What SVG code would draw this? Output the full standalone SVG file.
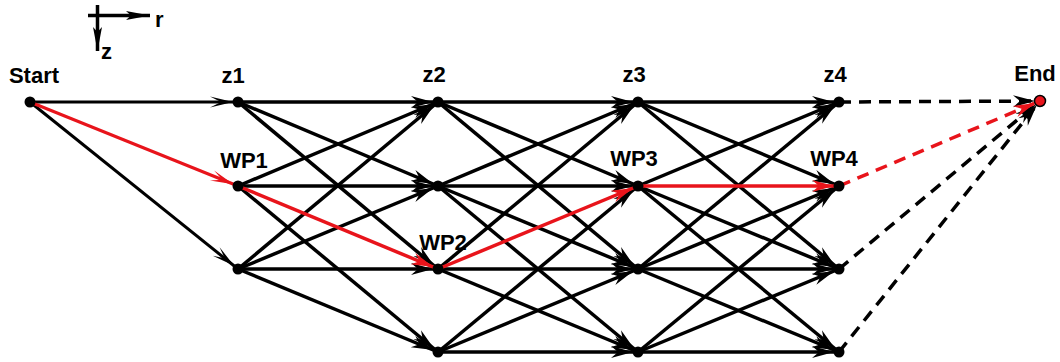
<svg xmlns="http://www.w3.org/2000/svg" width="1060" height="362" viewBox="0 0 1060 362">
<style>
  text { font-family: "Liberation Sans", Arial, sans-serif; font-weight: bold; fill: #000; }
  .lbl { font-size: 22px; text-anchor: middle; }
  .ax { font-size: 22px; }
  .e { stroke: #000; stroke-width: 3.5; fill: none; marker-end: url(#ah); }
  .er { stroke: #e8141b; stroke-width: 3.5; fill: none; marker-end: url(#ahr); }
  .s { stroke: #000; stroke-width: 3; fill: none; marker-end: url(#sh); }
  .sr { stroke: #e8141b; stroke-width: 3; fill: none; marker-end: url(#shr); }
  .d { stroke: #000; stroke-width: 3.5; fill: none; stroke-dasharray: 12 8; marker-end: url(#ah); }
  .dr { stroke: #e8141b; stroke-width: 3.5; fill: none; stroke-dasharray: 12 8; marker-end: url(#ahr); }
  .axl { stroke: #000; stroke-width: 3.5; fill: none; }
  .n { fill: #000; }
</style>
<defs>
  <marker id="ah" markerUnits="userSpaceOnUse" orient="auto" refX="0" refY="0" markerWidth="30" markerHeight="14" style="overflow:visible">
    <path d="M-5,0 L-27,-6 L-20,0 L-27,6 Z" fill="#000"/>
  </marker>
  <marker id="ahr" markerUnits="userSpaceOnUse" orient="auto" refX="0" refY="0" markerWidth="30" markerHeight="14" style="overflow:visible">
    <path d="M-5,0 L-27,-6 L-20,0 L-27,6 Z" fill="#e8141b"/>
  </marker>
  <marker id="sh" markerUnits="userSpaceOnUse" orient="auto" refX="0" refY="0" markerWidth="30" markerHeight="14" style="overflow:visible">
    <path d="M-5,0 L-28,-5.5 L-17,0 L-28,5.5 Z" fill="#000"/>
  </marker>
  <marker id="shr" markerUnits="userSpaceOnUse" orient="auto" refX="0" refY="0" markerWidth="30" markerHeight="14" style="overflow:visible">
    <path d="M-5,0 L-28,-5.5 L-17,0 L-28,5.5 Z" fill="#e8141b"/>
  </marker>
  <marker id="axh" markerUnits="userSpaceOnUse" orient="auto" refX="0" refY="0" markerWidth="30" markerHeight="14" style="overflow:visible">
    <path d="M0,0 L-24,-4.5 L-19,0 L-24,4.5 Z" fill="#000"/>
  </marker>
</defs>

<g id="axes">
  <line class="axl" x1="88" y1="15.5" x2="150" y2="15.5" style="marker-end:url(#axh)"/>
  <line class="axl" x1="97.5" y1="5" x2="97.5" y2="51" style="marker-end:url(#axh)"/>
  <text class="ax" x="155" y="27">r</text>
  <text class="ax" x="101" y="59">z</text>
</g>

<g id="connectors">
  <!-- Start -->
  <line class="s" x1="30" y1="102" x2="238" y2="102"/>
  <line class="s" x1="30" y1="102" x2="238" y2="269"/>
  <!-- z1 -> z2 -->
  <line class="e" x1="238" y1="102" x2="438" y2="102"/>
  <line class="e" x1="238" y1="102" x2="438" y2="186"/>
  <line class="e" x1="238" y1="102" x2="438" y2="269"/>
  <line class="e" x1="238" y1="186" x2="438" y2="102"/>
  <line class="e" x1="238" y1="186" x2="438" y2="186"/>
  <line class="e" x1="238" y1="186" x2="438" y2="352"/>
  <line class="e" x1="238" y1="269" x2="438" y2="102"/>
  <line class="e" x1="238" y1="269" x2="438" y2="186"/>
  <line class="e" x1="238" y1="269" x2="438" y2="269"/>
  <line class="e" x1="238" y1="269" x2="438" y2="352"/>
  <!-- z2 -> z3 -->
  <line class="e" x1="438" y1="102" x2="638" y2="102"/>
  <line class="e" x1="438" y1="102" x2="638" y2="186"/>
  <line class="e" x1="438" y1="102" x2="638" y2="269"/>
  <line class="e" x1="438" y1="186" x2="638" y2="102"/>
  <line class="e" x1="438" y1="186" x2="638" y2="186"/>
  <line class="e" x1="438" y1="186" x2="638" y2="269"/>
  <line class="e" x1="438" y1="186" x2="638" y2="352"/>
  <line class="e" x1="438" y1="269" x2="638" y2="102"/>
  <line class="e" x1="438" y1="269" x2="638" y2="269"/>
  <line class="e" x1="438" y1="269" x2="638" y2="352"/>
  <line class="e" x1="438" y1="352" x2="638" y2="186"/>
  <line class="e" x1="438" y1="352" x2="638" y2="269"/>
  <line class="e" x1="438" y1="352" x2="638" y2="352"/>
  <!-- z3 -> z4 -->
  <line class="e" x1="638" y1="102" x2="839" y2="102"/>
  <line class="e" x1="638" y1="102" x2="839" y2="186"/>
  <line class="e" x1="638" y1="102" x2="839" y2="269"/>
  <line class="e" x1="638" y1="186" x2="839" y2="102"/>
  <line class="e" x1="638" y1="186" x2="839" y2="269"/>
  <line class="e" x1="638" y1="186" x2="839" y2="352"/>
  <line class="e" x1="638" y1="269" x2="839" y2="102"/>
  <line class="e" x1="638" y1="269" x2="839" y2="186"/>
  <line class="e" x1="638" y1="269" x2="839" y2="269"/>
  <line class="e" x1="638" y1="269" x2="839" y2="352"/>
  <line class="e" x1="638" y1="352" x2="839" y2="186"/>
  <line class="e" x1="638" y1="352" x2="839" y2="269"/>
  <line class="e" x1="638" y1="352" x2="839" y2="352"/>
  <!-- z4 -> End -->
  <line class="d" x1="839" y1="102" x2="1040" y2="101"/>
  <line class="d" x1="839" y1="269" x2="1040" y2="101"/>
  <line class="d" x1="839" y1="352" x2="1040" y2="101"/>
  <!-- red path -->
  <line class="sr" x1="30" y1="102" x2="238" y2="186"/>
  <line class="er" x1="238" y1="186" x2="438" y2="269"/>
  <line class="er" x1="438" y1="269" x2="638" y2="186"/>
  <line class="er" x1="638" y1="186" x2="839" y2="186"/>
  <line class="dr" x1="839" y1="186" x2="1040" y2="101"/>
</g>

<g id="start"><circle class="n" cx="30" cy="102" r="5.5"/><text class="lbl" x="34" y="83">Start</text></g>
<g id="z1"><circle class="n" cx="238" cy="102" r="5.5"/><text class="lbl" x="233" y="83">z1</text></g>
<g id="wp1"><circle class="n" cx="238" cy="186" r="5.5"/><text class="lbl" x="244" y="168">WP1</text></g>
<g id="n1_2"><circle class="n" cx="238" cy="269" r="5.5"/></g>
<g id="z2"><circle class="n" cx="438" cy="102" r="5.5"/><text class="lbl" x="434" y="82">z2</text></g>
<g id="n2_1"><circle class="n" cx="438" cy="186" r="5.5"/></g>
<g id="wp2"><circle class="n" cx="438" cy="269" r="5.5"/><text class="lbl" x="443" y="250">WP2</text></g>
<g id="n2_3"><circle class="n" cx="438" cy="352" r="5.5"/></g>
<g id="z3"><circle class="n" cx="638" cy="102" r="5.5"/><text class="lbl" x="634" y="82">z3</text></g>
<g id="wp3"><circle class="n" cx="638" cy="186" r="5.5"/><text class="lbl" x="634" y="166">WP3</text></g>
<g id="n3_2"><circle class="n" cx="638" cy="269" r="5.5"/></g>
<g id="n3_3"><circle class="n" cx="638" cy="352" r="5.5"/></g>
<g id="z4"><circle class="n" cx="839" cy="102" r="5.5"/><text class="lbl" x="835" y="82">z4</text></g>
<g id="wp4"><circle class="n" cx="839" cy="186" r="5.5"/><text class="lbl" x="834" y="166">WP4</text></g>
<g id="n4_2"><circle class="n" cx="839" cy="269" r="5.5"/></g>
<g id="n4_3"><circle class="n" cx="839" cy="352" r="5.5"/></g>
<g id="end"><circle cx="1040" cy="101" r="5.5" fill="#e8141b" stroke="#000" stroke-width="1.5"/><text class="lbl" x="1035" y="81">End</text></g>
</svg>
